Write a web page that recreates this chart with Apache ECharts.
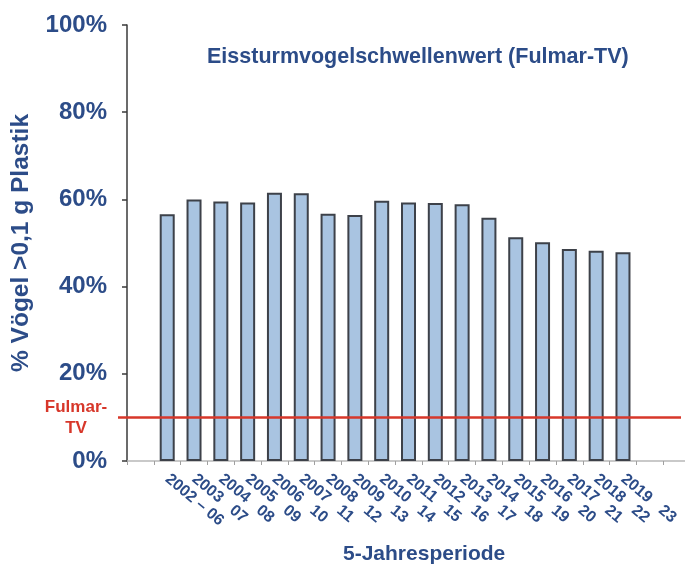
<!DOCTYPE html>
<html><head><meta charset="utf-8">
<script src="https://cdn.jsdelivr.net/npm/echarts@6/dist/echarts.min.js"></script>
<style>html,body{margin:0;padding:0;background:#fff}#c{width:685px;height:565px}</style>
</head><body><div id="c"></div>
<script>
var periods = ['2002 – 06','2003   07','2004   08','2005   09','2006   10','2007   11','2008   12','2009   13','2010   14','2011   15','2012   16','2013   17','2014   18','2015   19','2016   20','2017   21','2018   22','2019   23'];
var values = [56.6, 60.0, 59.5, 59.3, 61.5, 61.4, 56.7, 56.4, 59.7, 59.3, 59.2, 58.9, 55.8, 51.3, 50.2, 48.6, 48.2, 47.9];
var fulmarTV = 10;
var yTicks = [0, 20, 40, 60, 80, 100];

var blue = '#2c4c88';
var cats = [''].concat(periods, ['', '']);
var vals = ['-'].concat(values, ['-', '-']);
var chart = echarts.init(document.getElementById('c'), null, {renderer: 'canvas'});
chart.setOption({
  animation: false,
  title: [
    {text: 'Eissturmvogelschwellenwert (Fulmar-TV)', left: 202, top: 41,
     textStyle: {fontFamily: 'Liberation Sans', fontWeight: 'bold', fontSize: 21.5, color: blue}},
    {text: '5-Jahresperiode', left: 338, top: 539,
     textStyle: {fontFamily: 'Liberation Sans', fontWeight: 'bold', fontSize: 21, color: blue}}
  ],
  grid: {left: 127, top: 25, width: 563, bottom: 104, outerBoundsMode: 'none', containLabel: false},
  xAxis: {
    type: 'category', data: cats,
    axisLine: {lineStyle: {color: '#b8b8b8', width: 1.5}},
    axisTick: {show: true, length: 4, lineStyle: {color: '#a0a0a0'}},
    axisLabel: {interval: 0, rotate: -40, margin: 16, color: blue,
      fontFamily: 'Liberation Sans', fontWeight: 'bold', fontSize: 16}
  },
  yAxis: {
    type: 'value', min: yTicks[0], max: yTicks[yTicks.length - 1], interval: 20,
    name: '% Vögel >0,1 g Plastik', nameLocation: 'middle', nameGap: 93, nameRotate: 90,
    nameTextStyle: {fontFamily: 'Liberation Sans', fontWeight: 'bold', fontSize: 24.5, color: blue},
    axisLine: {show: true, lineStyle: {color: '#3a3a3a', width: 1.5}},
    axisTick: {show: true, length: 5, lineStyle: {color: '#3a3a3a', width: 1.5}},
    splitLine: {show: false},
    axisLabel: {formatter: '{value}%', margin: 20, color: blue,
      fontFamily: 'Liberation Sans', fontWeight: 'bold', fontSize: 24}
  },
  series: [{
    type: 'bar', data: vals, barWidth: 15,
    itemStyle: {color: '#a9c4e1', borderColor: '#3d4149', borderWidth: 2},
    markLine: {
      silent: true, symbol: 'none',
      lineStyle: {color: '#d7372a', width: 2.5, type: 'solid'},
      label: {show: true, position: 'start', formatter: 'Fulmar-\nTV', distance: 42,
        color: '#d7372a', fontFamily: 'Liberation Sans', fontWeight: 'bold', fontSize: 17, lineHeight: 21, align: 'center'},
      data: [[{x: 118, yAxis: fulmarTV}, {x: 681, yAxis: fulmarTV}]]
    }
  }]
});
</script></body></html>
